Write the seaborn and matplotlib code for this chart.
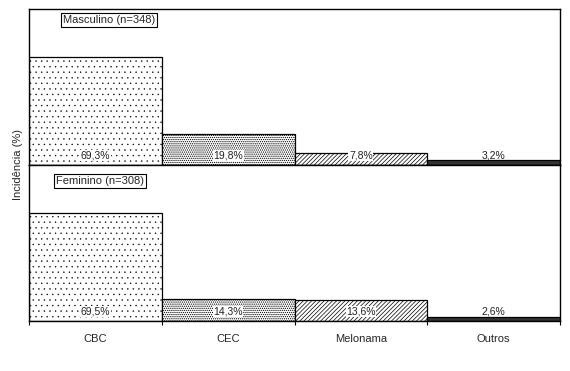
import matplotlib
matplotlib.use("Agg")
import matplotlib.pyplot as plt
import seaborn as sns
import pandas as pd

categorias = ["CBC", "CEC", "Melonama", "Outros"]
masculino = [69.3, 19.8, 7.8, 3.2]
feminino = [69.5, 14.3, 13.6, 2.6]
rotulos_m = ["69,3%", "19,8%", "7,8%", "3,2%"]
rotulos_f = ["69,5%", "14,3%", "13,6%", "2,6%"]
titulos = ["Masculino (n=348)", "Feminino (n=308)"]

sns.set_theme(style="white")
plt.rcParams["font.family"] = ["Liberation Sans", "DejaVu Sans"]
plt.rcParams["hatch.linewidth"] = 0.5

fig = plt.figure(figsize=(5.7, 3.71), dpi=100)
ax1 = fig.add_axes([29/570, 1-165/371, (560-29)/570, 156/371])
ax2 = fig.add_axes([29/570, 1-321/371, (560-29)/570, 156/371])

hatches = ["...", "........", "////////", None]
hlw = [0.25, 0.6, 0.5, 0.5]
faces = ["white", "white", "white", "#333333"]

for ax, vals, labs, tit, tx, ty in [
    (ax1, masculino, rotulos_m, titulos[0], 63, 20),
    (ax2, feminino, rotulos_f, titulos[1], 56, 181),
]:
    df = pd.DataFrame({"cat": categorias, "val": vals})
    sns.barplot(data=df, x="cat", y="val", ax=ax, width=1.0, color="white",
                edgecolor="black", linewidth=0.9, saturation=1)
    for p, h, fc, lw in zip(ax.patches, hatches, faces, hlw):
        p.set_facecolor(fc)
        if h:
            p.set_hatch(h)
            if hasattr(p, "set_hatch_linewidth"):
                p.set_hatch_linewidth(lw)
    for i, t in enumerate(labs):
        box = dict(boxstyle="square,pad=0.05", fc="white", ec="none") if i < 3 else None
        ax.text(i, 6.3, t, ha="center", va="center", fontsize=7.5, color="#222222",
                bbox=box)
    ax.set_ylim(0, 100)
    ax.set_xlim(-0.5, 3.5)
    ax.set_yticks([])
    ax.set_ylabel("")
    ax.set_xlabel("")
    for s in ax.spines.values():
        s.set_color("black")
        s.set_linewidth(1.0)
    fig.text(tx/570, 1-ty/371, tit, fontsize=8, ha="left", va="center",
             bbox=dict(boxstyle="square,pad=0.2", fc="white", ec="black", lw=0.8))

ax1.set_xticks([])
ax2.set_xticks([-0.5, 0.5, 1.5, 2.5, 3.5])
ax2.set_xticklabels([])
ax2.tick_params(axis="x", which="major", direction="out", length=3, width=0.8,
                color="black", bottom=True)
ax2.set_xticks([0, 1, 2, 3], minor=True)
ax2.set_xticklabels(categorias, minor=True, fontsize=8)
ax2.tick_params(axis="x", which="minor", length=0, pad=9, bottom=True)

fig.text(18/570, 1-165/371, "Incidência (%)", rotation=90, fontsize=8,
         ha="center", va="center")

fig.savefig("out.png", dpi=100, facecolor="white")
